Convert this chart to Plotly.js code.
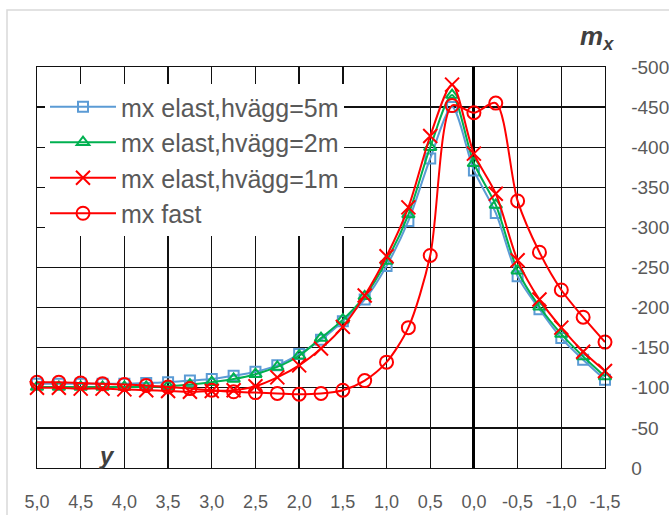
<!DOCTYPE html>
<html>
<head>
<meta charset="utf-8">
<script src="https://cdn.plot.ly/plotly-3.0.1.min.js"></script>
<style>html,body{margin:0;padding:0;background:#fff;}#chart{width:669px;height:515px;}</style>
</head>
<body>
<div id="chart"></div>
<script>
const yPos = [5.0, 4.75, 4.5, 4.25, 4.0, 3.75, 3.5, 3.25, 3.0, 2.75, 2.5, 2.25, 2.0, 1.75, 1.5, 1.25, 1.0, 0.75, 0.5, 0.25, 0.0, -0.25, -0.5, -0.75, -1.0, -1.25, -1.5];
const mxElast5 = [-105, -105, -105, -105, -105, -106, -107, -109, -111, -115, -120, -128, -142, -160, -183, -210, -252, -308, -386, -450, -371, -318, -239, -198, -162, -135, -110];
const mxElast2 = [-101, -101, -101, -101, -101, -101, -102, -104, -107, -111, -117, -126, -140, -162, -185, -214, -258, -316, -400, -465, -380, -328, -246, -201, -167, -139, -114];
const mxElast1 = [-100, -100, -99, -99, -98, -97, -96, -95, -96, -97, -102, -113, -128, -149, -176, -215, -264, -325, -414, -478, -392, -342, -259, -210, -175, -145, -121];
const mxFast = [-107, -107, -106, -105, -104, -103, -101, -99, -97, -95, -94, -93, -92, -93, -97, -109, -132, -175, -265, -452, -443, -455, -333, -269, -222, -188, -157];
const seriesNames = ["mx elast,hvägg=5m", "mx elast,hvägg=2m", "mx elast,hvägg=1m", "mx fast"];
const xTickVals = [5.0, 4.5, 4.0, 3.5, 3.0, 2.5, 2.0, 1.5, 1.0, 0.5, 0.0, -0.5, -1.0, -1.5];
const xTickText = ["5,0", "4,5", "4,0", "3,5", "3,0", "2,5", "2,0", "1,5", "1,0", "0,5", "0,0", "-0,5", "-1,0", "-1,5"];
const yTickVals = [0, -50, -100, -150, -200, -250, -300, -350, -400, -450, -500];
const yTickText = ["0", "-50", "-100", "-150", "-200", "-250", "-300", "-350", "-400", "-450", "-500"];

const FONT = "Liberation Sans, Arial, sans-serif";
const GRAY = "#595959";

function mk(name, ys, color, symbol, size) {
  return {
    x: yPos, y: ys, name: name, type: "scatter", mode: "lines+markers",
    cliponaxis: false,
    line: {color: color, width: 2, shape: "spline", smoothing: 0.8},
    marker: {symbol: symbol, size: size, color: color, line: {color: color, width: 2}}
  };
}

const traces = [
  mk(seriesNames[0], mxElast5, "#5B9BD5", "square-open", 10),
  mk(seriesNames[1], mxElast2, "#00B050", "triangle-up-open", 11),
  mk(seriesNames[2], mxElast1, "#FF0000", "x-thin-open", 14),
  mk(seriesNames[3], mxFast, "#FF0000", "circle-open", 13)
];

const L = 37, R = 64, T = 67, B = 47;
const pw = 669 - L - R, ph = 515 - T - B;
function px(ox) { return (ox - L) / pw; }
function py(oy) { return (515 - B - oy) / ph; }

const layout = {
  width: 669, height: 515,
  margin: {l: L, r: R, t: T, b: B, pad: 0},
  paper_bgcolor: "#fff", plot_bgcolor: "#fff",
  showlegend: true,
  legend: {
    x: px(45), y: py(84), xanchor: "left", yanchor: "top",
    bgcolor: "#fff", borderwidth: 0,
    font: {family: FONT, size: 25, color: GRAY},
    itemwidth: 66, tracegroupgap: 0
  },
  xaxis: {
    range: [5.0, -1.5], tickvals: xTickVals, ticktext: xTickText,
    showgrid: true, gridcolor: "#111", gridwidth: 1.4,
    zeroline: true, zerolinecolor: "#000", zerolinewidth: 3,
    showline: true, mirror: true, linecolor: "#111", linewidth: 1.4,
    ticks: "outside", ticklen: 17, tickcolor: "rgba(0,0,0,0)",
    tickfont: {family: FONT, size: 18, color: GRAY}, fixedrange: true
  },
  yaxis: {
    range: [0, -500], side: "right", tickvals: yTickVals, ticktext: yTickText,
    showgrid: true, gridcolor: "#111", gridwidth: 1.4,
    zeroline: true, zerolinecolor: "#000", zerolinewidth: 3,
    showline: true, mirror: true, linecolor: "#111", linewidth: 1.4,
    ticks: "outside", ticklen: 21, tickcolor: "rgba(0,0,0,0)",
    tickfont: {family: FONT, size: 19, color: GRAY}, fixedrange: true
  },
  annotations: [
    {xref: "paper", yref: "paper", x: px(597), y: py(38), xanchor: "center", yanchor: "middle",
     text: "<b><i>m</i></b><sub><b><i>x</i></b></sub>", showarrow: false,
     font: {family: FONT, size: 26, color: "#404040"}},
    {xref: "paper", yref: "paper", x: px(107), y: py(455), xanchor: "center", yanchor: "middle",
     text: "<b><i>y</i></b>", showarrow: false,
     font: {family: FONT, size: 24, color: "#404040"}}
  ],
  shapes: [
    {type: "rect", xref: "paper", yref: "paper", layer: "below",
     x0: px(7), x1: px(700), y0: py(540), y1: py(10),
     line: {color: "#d9d9d9", width: 1.5}, fillcolor: "rgba(0,0,0,0)"}
  ]
};

Plotly.newPlot("chart", traces, layout, {displayModeBar: false, staticPlot: true});
</script>
</body>
</html>
